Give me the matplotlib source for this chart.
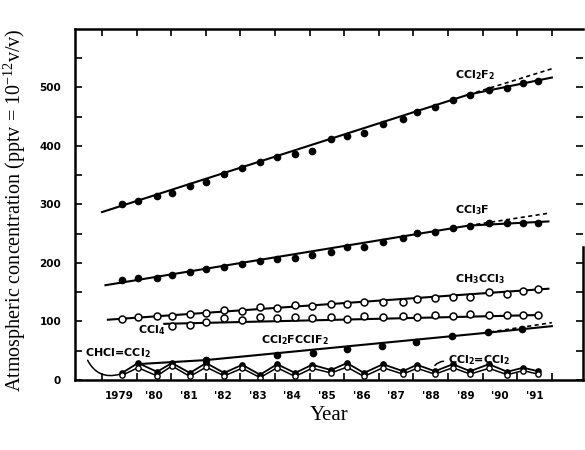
import matplotlib
matplotlib.use("Agg")
import matplotlib.pyplot as plt

# ---- data ----
years = [1979.58, 1980.04, 1980.59, 1981.02, 1981.54, 1982.01, 1982.53, 1983.05,
         1983.57, 1984.06, 1984.58, 1985.07, 1985.62, 1986.08, 1986.57, 1987.12,
         1987.70, 1988.10, 1988.62, 1989.14, 1989.64, 1990.18, 1990.71, 1991.17,
         1991.60]

ccl2f2 = [301, 306, 315, 320, 332, 338, 352, 362, 373, 381, 386, 391, 412, 417,
          422, 438, 446, 458, 467, 479, 487, 496, 499, 508, 511]
ccl3f = [171, 174, 174, 179, 185, 190, 193, 198, 203, 207, 209, 214, 219, 227,
         227, 236, 243, 251, 253, 260, 263, 268, 268, 268, 268]
ch3ccl3 = [104, 108, 109, 109, 113, 115, 120, 118, 125, 123, 128, 126, 130, 130,
           133, 133, 133, 138, 140, 142, 142, 150, 147, 152, 156]
ccl4_years = years[3:]
ccl4 = [92, 94, 99, 106, 103, 108, 106, 108, 106, 108, 104, 109, 108, 109, 108,
        111, 109, 113, 111, 111, 111, 111]
cfc113_years = [1982.01, 1984.06, 1985.10, 1986.08, 1987.09, 1988.08, 1989.10,
                1990.16, 1991.14]
cfc113 = [34, 43, 46, 53, 58, 65, 75, 82, 87]
c2cl4 = [12, 29, 14, 29, 12, 29, 12, 26, 9, 27, 12, 26, 17, 29, 12, 27, 15, 26,
         15, 27, 15, 27, 14, 21, 15]
c2hcl3 = [8, 21, 7, 24, 6, 22, 7, 20, 4, 21, 6, 20, 12, 22, 6, 21, 10, 20, 10,
          21, 10, 20, 9, 16, 10]

# trend lines (solid fit and dashed alternative)
ccl2f2_fit_x = [1979.0, 1989.6, 1992.0]
ccl2f2_fit_y = [287, 488, 517]
ccl2f2_dash_x = [1989.6, 1992.0]
ccl2f2_dash_y = [488, 532]
ccl3f_fit_x = [1979.1, 1989.6, 1991.9]
ccl3f_fit_y = [162, 264, 271]
ccl3f_dash_x = [1989.6, 1991.9]
ccl3f_dash_y = [264, 285]
ch3ccl3_fit_x = [1979.17, 1991.9]
ch3ccl3_fit_y = [103, 156]
ccl4_fit_x = [1980.8, 1991.6]
ccl4_fit_y = [96, 111]
cfc113_fit_x = [1980.0, 1982.0, 1990.0, 1992.0]
cfc113_fit_y = [27, 34, 80, 92]
cfc113_dash_x = [1990.0, 1992.0]
cfc113_dash_y = [80, 98]

xtick_labels = ["1979", "'80", "'81", "'82", "'83", "'84", "'85", "'86", "'87",
                "'88", "'89", "'90", "'91"]
year_bounds = list(range(1979, 1993))

plt.rcParams['mathtext.default'] = 'regular'

fig = plt.figure(figsize=(5.85, 4.5), dpi=100)
ax = fig.add_axes([0.1282, 0.1556, 0.8684, 0.78])

lw = 1.5
k = 'black'
# lines
ax.plot(ccl2f2_fit_x, ccl2f2_fit_y, color=k, lw=lw)
ax.plot(ccl2f2_dash_x, ccl2f2_dash_y, color=k, lw=1.2, ls=(0, (2.5, 2)))
ax.plot(years, ccl2f2, 'o', color=k, ms=4.5)

ax.plot(ccl3f_fit_x, ccl3f_fit_y, color=k, lw=lw)
ax.plot(ccl3f_dash_x, ccl3f_dash_y, color=k, lw=1.2, ls=(0, (2.5, 2)))
ax.plot(years, ccl3f, 'o', color=k, ms=4.5)

ax.plot(ch3ccl3_fit_x, ch3ccl3_fit_y, color=k, lw=lw)
ax.plot(years, ch3ccl3, 'o', mfc='white', mec=k, mew=1.1, ms=5)

ax.plot(ccl4_fit_x, ccl4_fit_y, color=k, lw=lw)
ax.plot(ccl4_years, ccl4, 'o', mfc='white', mec=k, mew=1.1, ms=5)

ax.plot(cfc113_fit_x, cfc113_fit_y, color=k, lw=lw)
ax.plot(cfc113_dash_x, cfc113_dash_y, color=k, lw=1.2, ls=(0, (2.5, 2)))
ax.plot(cfc113_years, cfc113, 'o', color=k, ms=4.5)

ax.plot(years, c2cl4, '-o', color=k, lw=1.3, ms=3.8)
ax.plot(years, c2hcl3, '-o', color=k, lw=1.1, ms=3.8, mfc='white', mew=1.0)

# labels
lab = dict(fontsize=8, fontweight='bold', family='DejaVu Sans', color=k)
ax.text(1989.2, 521, 'CCl$_2$F$_2$', ha='left', va='center', **lab)
ax.text(1989.2, 290, 'CCl$_3$F', ha='left', va='center', **lab)
ax.text(1989.2, 172, 'CH$_3$CCl$_3$', ha='left', va='center', **lab)
ax.text(1980.05, 85, 'CCl$_4$', ha='left', va='center', **lab)
ax.text(1983.6, 68, 'CCl$_2$FCClF$_2$', ha='left', va='center', **lab)
ax.text(1978.5, 46, 'CHCl=CCl$_2$', ha='left', va='center', **lab)
ax.text(1989.0, 34, 'CCl$_2$=CCl$_2$', ha='left', va='center', **lab)

ax.annotate('', xy=(years[0], c2hcl3[0] + 3), xytext=(1978.55, 38),
            arrowprops=dict(arrowstyle='-', color=k, lw=1.1,
                            connectionstyle='arc3,rad=0.45'))
ax.annotate('', xy=(years[18] - 0.05, c2cl4[18] + 6), xytext=(1988.95, 32),
            arrowprops=dict(arrowstyle='-', color=k, lw=1.1,
                            connectionstyle='arc3,rad=0.3'))

# axes
ax.set_xlim(1978.22, 1992.9)
ax.set_ylim(0, 600)

ax.set_xticks([y + 0.5 for y in year_bounds[:-1]])
ax.set_xticklabels(xtick_labels, fontsize=7.5, fontweight='bold')
ax.set_xticks(year_bounds, minor=True)
ax.tick_params(axis='x', which='major', length=0, pad=8)
ax.tick_params(axis='x', which='minor', direction='in', length=5, width=1.2,
               top=True, bottom=True)

ax.set_yticks([0, 100, 200, 300, 400, 500])
ax.set_yticklabels(['0', '100', '200', '300', '400', '500'], fontsize=7.5,
                   fontweight='bold')
ax.set_yticks([50, 150, 250, 350, 450, 550], minor=True)
ax.tick_params(axis='y', which='both', direction='in', length=5, width=1.2,
               left=True, right=True, pad=10)

for s in ax.spines.values():
    s.set_linewidth(1.8)
ax.spines['right'].set_bounds(0, 228)

ax.set_ylabel('Atmospheric concentration (pptv = 10$^{-12}$v/v)',
              family='Liberation Serif', fontsize=14.5)
ax.yaxis.set_label_coords(-0.093, 0.484)
ax.set_xlabel('Year', family='Liberation Serif', fontsize=15)
ax.xaxis.set_label_coords(0.5, -0.075)

fig.savefig('out.png', dpi=100)
